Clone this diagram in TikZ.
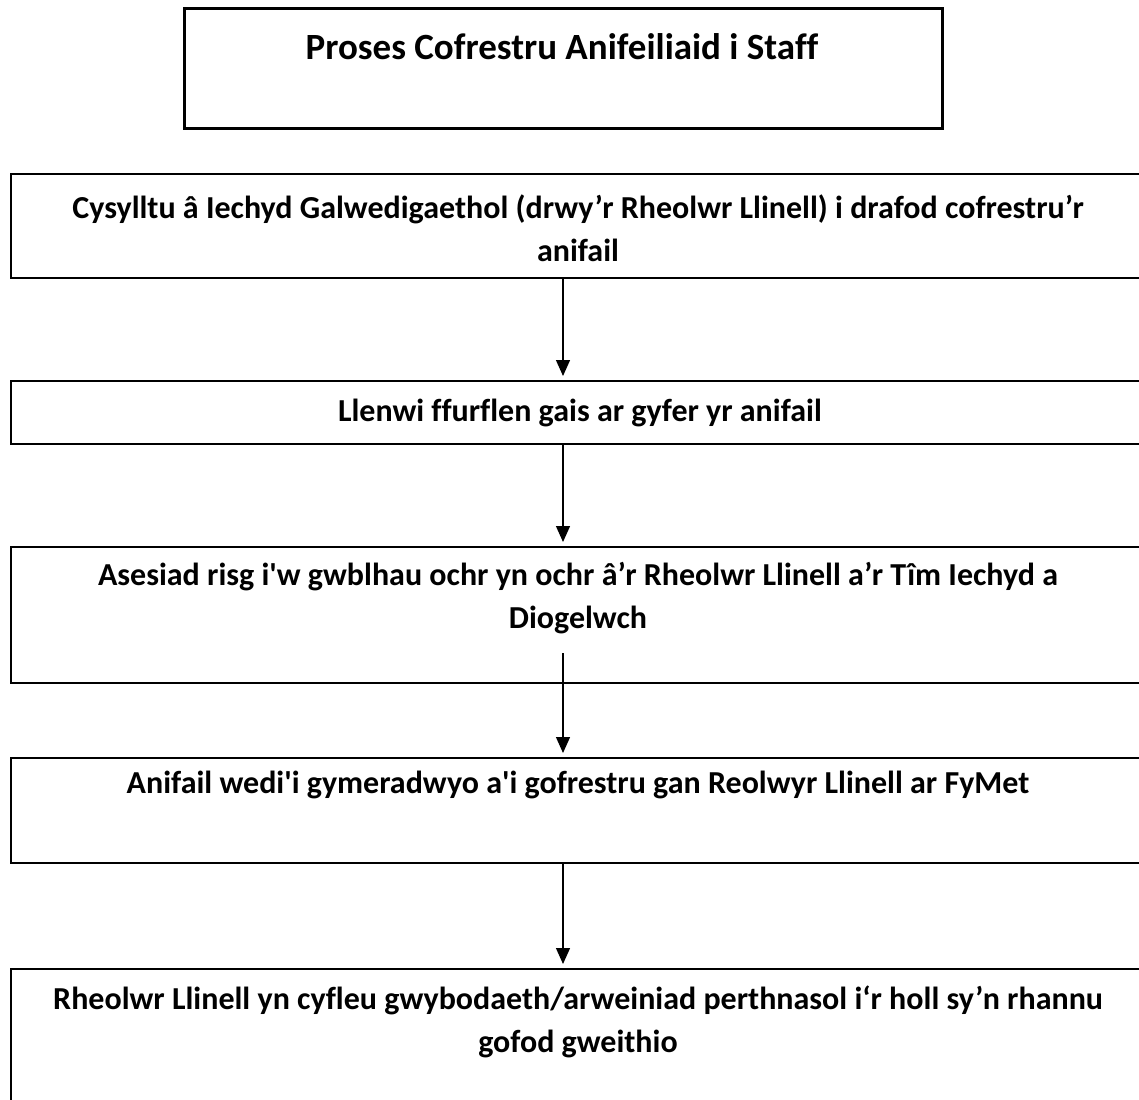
\documentclass[tikz,border=0pt]{standalone}
\usepackage{fontspec}
\setmainfont[Ligatures={NoCommon}]{Carlito}
\usetikzlibrary{arrows.meta}
\newcommand{\sq}{\textquotesingle}
\begin{document}
\begin{tikzpicture}[x=1pt,y=-1pt,
  box/.style={draw, line width=2pt, inner sep=0pt, anchor=north west, minimum width=1136pt},
  txt/.style={font=\bfseries\fontsize{32}{43}\selectfont, align=center, inner sep=0pt},
  arr/.style={line width=1.3pt, -{Triangle[length=16pt,width=14pt]}, shorten >=4pt}]
\useasboundingbox (0,0) rectangle (1139,1099);
\clip (0,0) rectangle (1139,1099);
\node[box, line width=2.6pt, minimum width=758pt, minimum height=120pt] (b0) at (183,7) {};
\node[box, minimum height=104pt] (b1) at (10,173) {};
\node[box, minimum height=63pt] (b2) at (10,380) {};
\node[box, minimum height=136pt] (b3) at (10,546) {};
\node[box, minimum height=105pt] (b4) at (10,757) {};
\node[box, minimum height=150pt] (b5) at (10,968) {};
\node[txt, font=\bfseries\fontsize{37}{44}\selectfont] (t0) at (562,47) {Proses Cofrestru Anifeiliaid i Staff};
\node[txt] (t1) at (578,228.5) {Cysylltu â Iechyd Galwedigaethol (drwy’r Rheolwr Llinell) i drafod cofrestru’r\\anifail};
\node[txt] (t2) at (580,413) {Llenwi ffurflen gais ar gyfer yr anifail};
\node[txt] (t3) at (578,598) {Asesiad risg i\sq w gwblhau ochr yn ochr â’r Rheolwr Llinell a’r Tîm Iechyd a\\Diogelwch};
\node[txt] (t4) at (578,785) {Anifail wedi\sq i gymeradwyo a\sq i gofrestru gan Reolwyr Llinell ar FyMet};
\node[txt] (t5) at (578,1021.5) {Rheolwr Llinell yn cyfleu gwybodaeth/arweiniad perthnasol i‘r holl sy’n rhannu\\gofod gweithio};
\draw[arr] ([xshift=-16pt]b1.south) -- ([xshift=-16pt]b2.north);
\draw[arr] ([xshift=-16pt]b2.south) -- ([xshift=-16pt]b3.north);
\draw[arr] ([xshift=-16pt,yshift=31pt]b3.south) -- ([xshift=-16pt]b4.north);
\draw[arr] ([xshift=-16pt]b4.south) -- ([xshift=-16pt]b5.north);
\end{tikzpicture}
\end{document}
